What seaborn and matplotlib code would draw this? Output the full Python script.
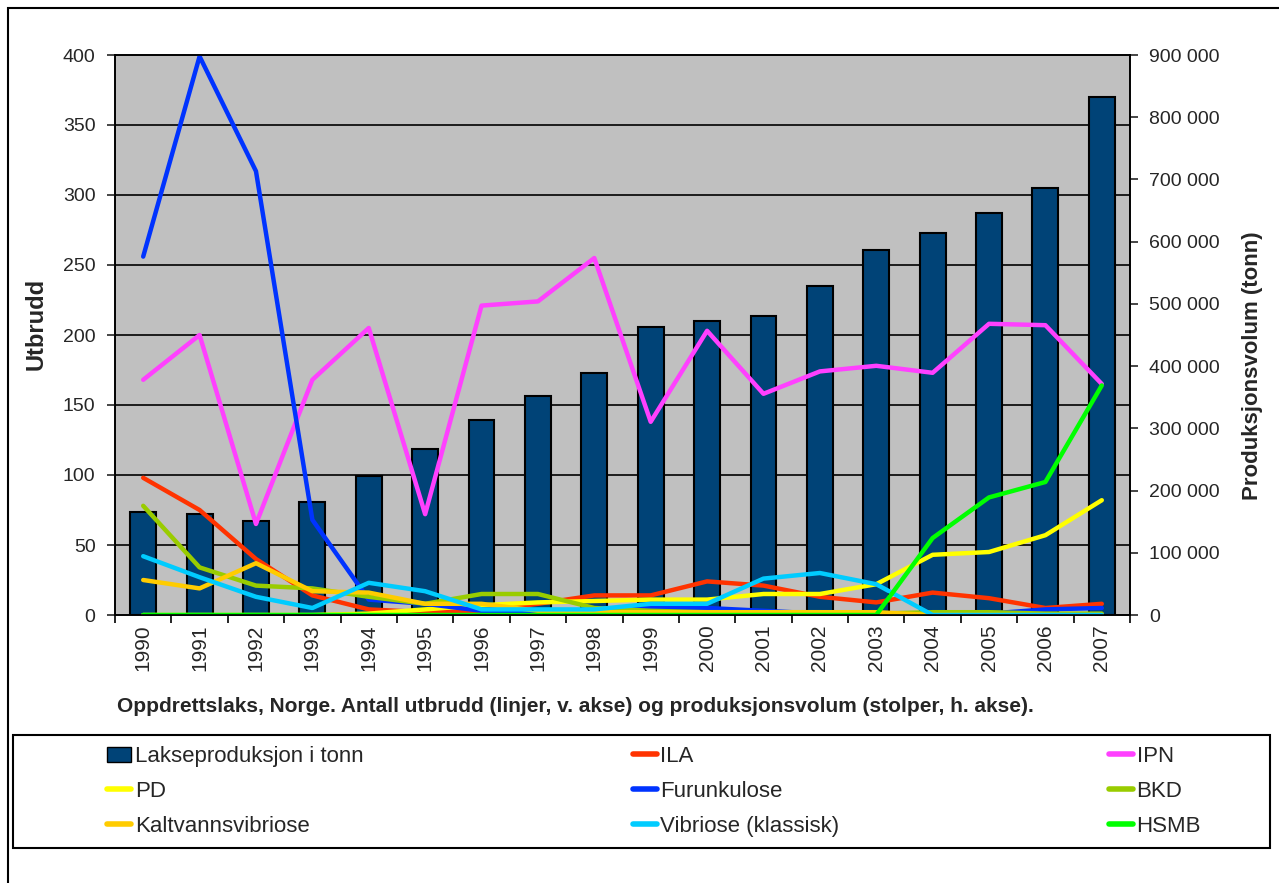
import numpy as np
import pandas as pd
import matplotlib.pyplot as plt
import matplotlib.ticker as mticker
from matplotlib.patches import Rectangle, Patch
from matplotlib.lines import Line2D
import seaborn as sns

sns.set_style("ticks")
plt.rcParams["font.family"] = ["Liberation Sans", "DejaVu Sans"]

# data
years = [str(y) for y in range(1990, 2008)]
production = [165000, 162000, 151000, 181000, 223000, 267000, 313000, 352000, 389000,
              463000, 472000, 481000, 529000, 587000, 614000, 646000, 686000, 832000]

ila = [98, 75, 40, 14, 4, 2, 3, 8, 14, 14, 24, 21, 13, 9, 16, 12, 5, 8]
ipn = [168, 200, 65, 168, 205, 72, 221, 224, 255, 138, 203, 158, 174, 178, 173, 208, 207, 165]
pd_ = [0, 0, 0, 0, 1, 4, 7, 9, 10, 11, 11, 15, 15, 22, 43, 45, 57, 82]
furunkulose = [256, 399, 317, 68, 11, 8, 3, 2, 2, 5, 5, 3, 1, 1, 1, 1, 4, 5]
bkd = [78, 34, 21, 19, 13, 8, 15, 15, 5, 3, 2, 2, 2, 1, 2, 2, 1, 1]
kaltvann = [25, 19, 37, 17, 16, 8, 8, 3, 2, 2, 2, 2, 2, 2, 0, 0, 0, 0]
vibriose = [42, 27, 13, 5, 23, 17, 4, 4, 4, 8, 8, 26, 30, 22, 0, 0, 0, 0]
hsmb = [0, 0, 0, 0, 0, 0, 0, 0, 0, 0, 0, 0, 0, 0, 55, 84, 95, 164]

diseases = ["ILA", "IPN", "PD", "Furunkulose", "BKD", "Kaltvannsvibriose",
            "Vibriose (klassisk)", "HSMB"]
series = [ila, ipn, pd_, furunkulose, bkd, kaltvann, vibriose, hsmb]
colors = ["#FF3300", "#FF40FF", "#FFFF00", "#0033FF", "#99CC00", "#FFCC00",
          "#00CCFF", "#00FF00"]
bar_color = "#004377"

lines = pd.DataFrame({
    "Year": years * len(diseases),
    "Sykdom": np.repeat(diseases, len(years)),
    "Utbrudd": np.concatenate(series),
})

fig = plt.figure(figsize=(12.79, 8.83), dpi=100)
ax = fig.add_axes([115 / 1279, 1 - 615 / 883, 1015 / 1279, 560 / 883])

# bars on the production scale (shown on the right)
sns.barplot(x=years, y=production, ax=ax, color=bar_color, saturation=1,
            width=0.46, edgecolor="black", linewidth=1.5, zorder=2)
ax.set_facecolor("#C0C0C0")
ax.set_ylim(0, 900000)
ax.set_yticks(np.arange(0, 900001, 100000))
ax.yaxis.set_major_formatter(mticker.FuncFormatter(lambda v, p: f"{int(v):,}".replace(",", " ")))
# gridlines follow the left axis (every 50 outbreaks)
ax.set_yticks(np.arange(0, 900001, 900000 / 8), minor=True)
ax.yaxis.grid(True, which="minor", color="black", lw=1.2)
ax.set_axisbelow(True)

ax2 = ax.twinx()
sns.lineplot(data=lines, x="Year", y="Utbrudd", hue="Sykdom", hue_order=diseases,
             palette=colors, lw=3.2, ax=ax2, legend=False, sort=False)
ax2.set_ylim(0, 400)
ax2.set_yticks(np.arange(0, 401, 50))

ax.yaxis.tick_right()
ax.yaxis.set_label_position("right")
ax2.yaxis.tick_left()
ax2.yaxis.set_label_position("left")

ax.set_xlim(-0.5, len(years) - 0.5)
ax.set_xticks(range(len(years)))
ax.set_xticklabels(years, rotation=90, fontsize=15)
ax.set_xticks(np.arange(-0.5, len(years), 1), minor=True)
ax.tick_params(axis="x", which="major", length=0, pad=7)
ax.tick_params(axis="x", which="minor", length=6, width=1.2, color="black")
ax.tick_params(axis="y", which="major", length=6, width=1.2, labelsize=14, pad=8)
ax.tick_params(axis="y", which="minor", length=0)
ax2.tick_params(axis="y", length=6, width=1.2, labelsize=14, pad=8)

ax.set_xlabel("")
ax2.set_xlabel("")
ax.set_ylabel("Produksjonsvolum (tonn)", fontsize=16, fontweight="bold")
ax2.set_ylabel("Utbrudd", fontsize=17, fontweight="bold")
ax.yaxis.set_label_coords(1.11, 0.446)
ax2.yaxis.set_label_coords(-0.066, 0.52)

for a in (ax, ax2):
    for s in a.spines.values():
        s.set_color("black")
        s.set_linewidth(1.2)

fig.text(117 / 1279, 1 - 706 / 883,
         "Oppdrettslaks, Norge. Antall utbrudd (linjer, v. akse) og produksjonsvolum (stolper, h. akse).",
         fontsize=15, fontweight="bold", va="center", ha="left")

# outer frame and legend box
fig.add_artist(Rectangle((8 / 1279, -0.01), 1.0, 1 - 8 / 883 + 0.01, transform=fig.transFigure,
                         fill=False, edgecolor="black", lw=1.5))
fig.add_artist(Rectangle((13 / 1279, 1 - 848 / 883), 1257 / 1279, 113 / 883, transform=fig.transFigure,
                         fill=False, edgecolor="black", lw=1.5))

bar_handle = Patch(facecolor=bar_color, edgecolor="black", label="Lakseproduksjon i tonn")
lh = {d: Line2D([], [], color=c, lw=4, label=d) for d, c in zip(diseases, colors)}
handles = [bar_handle, lh["PD"], lh["Kaltvannsvibriose"],
           lh["ILA"], lh["Furunkulose"], lh["Vibriose (klassisk)"],
           lh["IPN"], lh["BKD"], lh["HSMB"]]
fig.legend(handles=handles, ncol=3, loc="center", mode="expand",
           bbox_to_anchor=(98 / 1279, 1 - 845 / 883, 1112 / 1279, 107 / 883),
           frameon=False, fontsize=16, handlelength=1.1, handletextpad=0.15,
           labelspacing=0.62, borderaxespad=0)

fig.savefig("out.png", dpi=100)
